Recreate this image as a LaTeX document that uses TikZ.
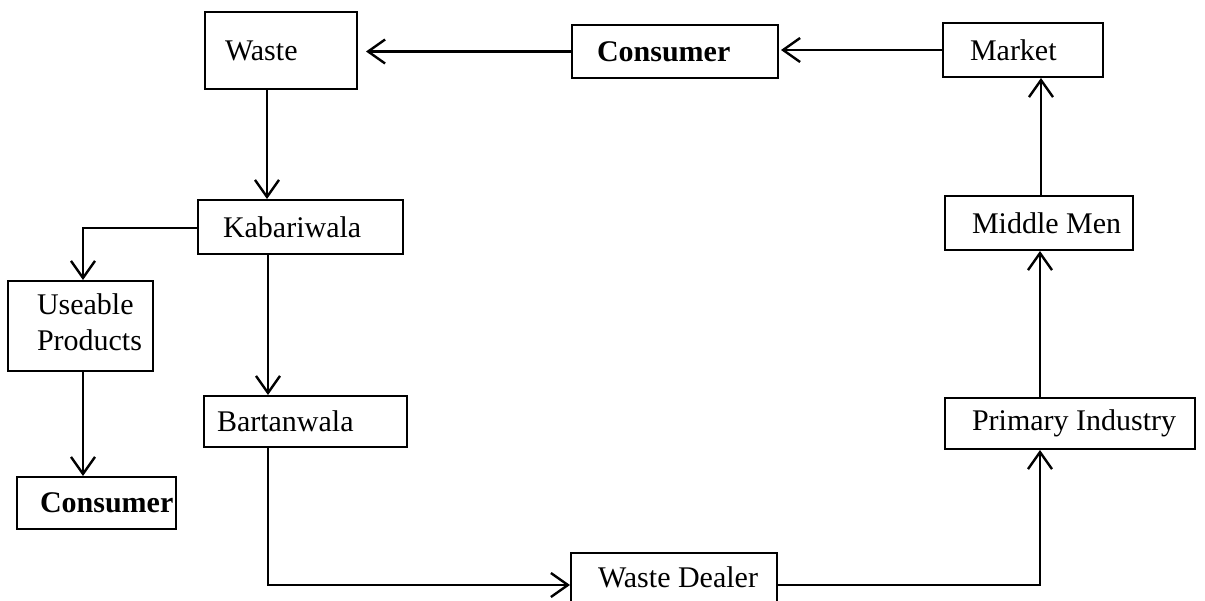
\documentclass[tikz,border=0pt]{standalone}
\usepackage{fontspec}
\setmainfont{Liberation Serif}
\usetikzlibrary{arrows.meta}
\newcommand{\padtext}[3]{\makebox[#1pt][l]{\hspace*{#2pt}#3}}
\tikzset{
  box/.style={draw, line width=2pt, inner sep=0pt, rectangle, font=\fontsize{30}{34}\selectfont},
  conn/.style={line width=2.4pt, -{Straight Barb[length=17pt,width=24pt,line width=2.4pt]}}
}
\begin{document}
\begin{tikzpicture}[x=1pt,y=-1pt]
\useasboundingbox (0,0) rectangle (1205,600);
\node[box, minimum height=77pt] (waste) at (281,50.5) {\padtext{152}{20}{Waste}};
\node[box, minimum height=53pt] (cons1) at (675,51.5) {\padtext{206}{25}{\textbf{Consumer}}};
\node[box, minimum height=54pt] (market) at (1023,50) {\padtext{160}{27}{Market}};
\node[box, minimum height=54pt] (kab) at (300.5,227) {\padtext{205}{25}{Kabariwala}};
\node[box, minimum height=90pt] (useable) at (80.5,326) {\padtext{145}{29}{\begin{tabular}{@{}l@{}}Useable\\[2pt]Products\end{tabular}}};
\node[box, minimum height=52pt] (cons2) at (96.5,503) {\padtext{159}{23}{\textbf{Consumer}}};
\node[box, minimum height=51pt] (bart) at (305.5,421.5) {\padtext{203}{13}{Bartanwala}};
\node[box, minimum height=56pt] (dealer) at (674,581) {\padtext{206}{27}{\raisebox{7pt}{Waste Dealer}}};
\node[box, minimum height=54pt] (middle) at (1039,223) {\padtext{188}{27}{Middle Men}};
\node[box, minimum height=51pt] (primary) at (1070,423.5) {\padtext{250}{27}{Primary Industry}};
% connectors
\draw[conn, shorten >=8pt] (cons1.west) -- (cons1.west -| waste.east);
\draw[conn, shorten >=2pt] (market.west) -- (market.west -| cons1.east);
\draw[conn] ([xshift=-14pt]waste.south) -- ([xshift=-14pt]waste.south |- kab.north);
\draw[conn] ([yshift=-1pt]kab.west) -| ([xshift=2.5pt]useable.north);
\draw[conn] ([xshift=2.5pt]useable.south) -- ([xshift=2.5pt]useable.south |- cons2.north);
\draw[conn] ([xshift=-32.5pt]kab.south) -- ([xshift=-32.5pt]kab.south |- bart.north);
\draw[conn] ([xshift=-37.5pt]bart.south) |- ([yshift=-4pt]dealer.west);
\draw[conn] ([yshift=-4pt]dealer.east) -| ([xshift=-30pt]primary.south);
\draw[conn] ([xshift=-30pt]primary.north) -- ([xshift=-30pt]primary.north |- middle.south);
\draw[conn] ([xshift=2pt]middle.north) -- ([xshift=2pt]middle.north |- market.south);
\end{tikzpicture}
\end{document}
